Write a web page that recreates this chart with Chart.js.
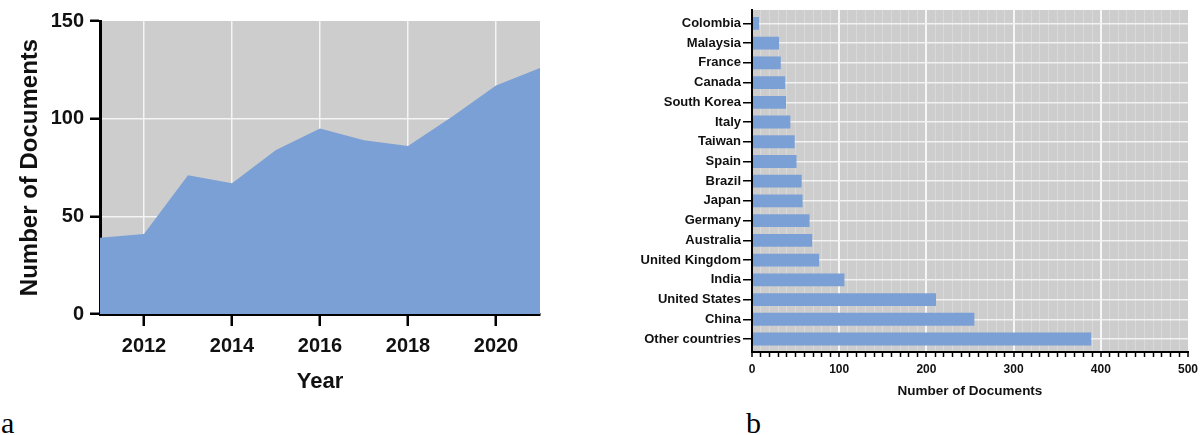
<!DOCTYPE html>
<html>
<head>
<meta charset="utf-8">
<script src="https://cdn.jsdelivr.net/npm/chart.js@4"></script>
<style>
  body { margin: 0; background: #fff; width: 1203px; height: 435px; position: relative; overflow: hidden; }
  .wrap { position: absolute; top: 0; height: 400px; }
  .panel-tag { position: absolute; font: 30px "Liberation Serif", "Times New Roman", serif; line-height: 1; color: #000; }
</style>
</head>
<body>
<div class="wrap" style="left:0;width:560px"><canvas id="chart_years"></canvas></div>
<div class="wrap" style="left:600px;width:603px"><canvas id="chart_countries"></canvas></div>
<div class="panel-tag" style="left:1px;top:408px">a</div>
<div class="panel-tag" style="left:746px;top:408px">b</div>

<script>
// ---------------------------------------------------------------- data
var years = [2011, 2012, 2013, 2014, 2015, 2016, 2017, 2018, 2019, 2020, 2021];
var docsPerYear = [39, 41, 71, 67, 84, 95, 89, 86, 101, 117, 126];
var yearTicks = [2012, 2014, 2016, 2018, 2020];

var countries = ['Colombia', 'Malaysia', 'France', 'Canada', 'South Korea', 'Italy', 'Taiwan', 'Spain',
                 'Brazil', 'Japan', 'Germany', 'Australia', 'United Kingdom', 'India', 'United States',
                 'China', 'Other countries'];
var docsPerCountry = [8, 31, 33, 38, 39, 44, 49, 51, 57, 58, 66, 69, 77, 106, 211, 255, 389];

// ---------------------------------------------------------------- styles
var plotGrey = '#cdcdcd';
var barBlue = '#7ba0d5';
var boldFont = 'Liberation Sans, Arial, Helvetica, sans-serif';

Chart.defaults.font.family = boldFont;
Chart.defaults.font.weight = 'bold';
Chart.defaults.color = '#111';

// grey panel behind the plot area
var plotBackground = {
    id: 'plotBackground',
    beforeDraw: function(chart) {
        var a = chart.chartArea;
        var c = chart.ctx;
        c.save();
        c.fillStyle = plotGrey;
        c.fillRect(a.left, a.top, a.right - a.left, a.bottom - a.top);
        c.restore();
    }
};

// ---------------------------------------------------------------- a : documents per year
new Chart(document.getElementById('chart_years'), {
    type: 'line',
    data: {
        datasets: [{
            data: years.map(function(y, i) { return { x: y, y: docsPerYear[i] }; }),
            fill: 'origin',
            backgroundColor: barBlue,
            borderWidth: 0,
            pointRadius: 0,
            tension: 0
        }]
    },
    options: {
        responsive: true,
        maintainAspectRatio: false,
        animation: false,
        layout: { padding: { top: 21, right: 20, left: 0, bottom: 0 } },
        plugins: { legend: { display: false }, tooltip: { enabled: false } },
        scales: {
            x: {
                type: 'linear',
                min: 2011,
                max: 2021,
                afterBuildTicks: function(scale) {
                    scale.ticks = yearTicks.map(function(v) { return { value: v }; });
                },
                afterFit: function(scale) { scale.height = 86; },
                grid: { color: '#f4f4f4', lineWidth: 1.5, tickColor: '#000', tickLength: 12, tickWidth: 2.5 },
                border: { color: '#000', width: 3 },
                ticks: {
                    padding: 8,
                    font: { size: 20 },
                    color: '#111',
                    callback: function(v) { return String(v); }
                },
                title: { display: true, text: 'Year', font: { size: 22 }, color: '#111', padding: { top: 0, bottom: 5 } }
            },
            y: {
                min: 0,
                max: 150,
                afterFit: function(scale) { scale.width = 100; },
                grid: {
                    color: function(ctx) { return (ctx.tick && ctx.tick.value > 0 && ctx.tick.value < 150) ? '#f4f4f4' : 'rgba(0,0,0,0)'; },
                    lineWidth: 1.5, tickColor: '#000', tickLength: 10, tickWidth: 2.5
                },
                border: { color: '#000', width: 3 },
                ticks: { stepSize: 50, padding: 6, font: { size: 20 }, color: '#111' },
                title: { display: true, text: 'Number of Documents', font: { size: 24 }, color: '#111', padding: { top: 16, bottom: 0 } }
            }
        }
    },
    plugins: [plotBackground]
});

// ---------------------------------------------------------------- b : documents per country
new Chart(document.getElementById('chart_countries'), {
    type: 'bar',
    data: {
        datasets: [{
            data: countries.map(function(c, i) { return { x: docsPerCountry[i], y: i }; }),
            backgroundColor: barBlue,
            borderWidth: 0,
            barPercentage: 0.65,
            categoryPercentage: 1
        }]
    },
    options: {
        indexAxis: 'y',
        responsive: true,
        maintainAspectRatio: false,
        animation: false,
        layout: { padding: { top: 10, right: 13, left: 0, bottom: 0 } },
        plugins: { legend: { display: false }, tooltip: { enabled: false } },
        scales: {
            x: {
                type: 'linear',
                min: 0,
                max: 500,
                afterBuildTicks: function(scale) {
                    var t = [];
                    for (var v = 0; v <= 500; v += 10) t.push({ value: v });
                    scale.ticks = t;
                },
                afterFit: function(scale) { scale.height = 48; },
                grid: {
                    color: function(ctx) {
                        var v = ctx.tick ? ctx.tick.value : 0;
                        if (v === 0 || v === 500) return 'rgba(0,0,0,0)';
                        return v % 100 === 0 ? '#f6f6f6' : '#d9d9d9';
                    },
                    lineWidth: function(ctx) {
                        var v = ctx.tick ? ctx.tick.value : 0;
                        return v % 100 === 0 ? 2 : 1;
                    },
                    tickColor: '#000', tickLength: 5, tickWidth: 1.5
                },
                border: { color: '#000', width: 2 },
                ticks: {
                    autoSkip: false,
                    maxRotation: 0,
                    padding: 5,
                    font: { size: 12 },
                    color: '#111',
                    callback: function(v) { return v % 100 === 0 ? String(v) : ''; }
                },
                title: { display: true, text: 'Number of Documents', font: { size: 13.5 }, color: '#111', padding: { top: 0, bottom: 1 } }
            },
            y: {
                type: 'linear',
                reverse: true,
                offset: false,
                min: -0.68,
                max: 16.66,
                afterBuildTicks: function(scale) {
                    scale.ticks = countries.map(function(c, i) { return { value: i }; });
                },
                afterFit: function(scale) { scale.width = 152; },
                grid: { offset: false, color: '#f2f2f2', lineWidth: 1.5, tickColor: '#000', tickLength: 9, tickWidth: 1.5 },
                border: { color: '#000', width: 2 },
                ticks: {
                    autoSkip: false,
                    padding: 2,
                    font: { size: 13 },
                    color: '#111',
                    callback: function(v) { return countries[v]; }
                }
            }
        }
    },
    plugins: [plotBackground]
});
</script>
</body>
</html>
